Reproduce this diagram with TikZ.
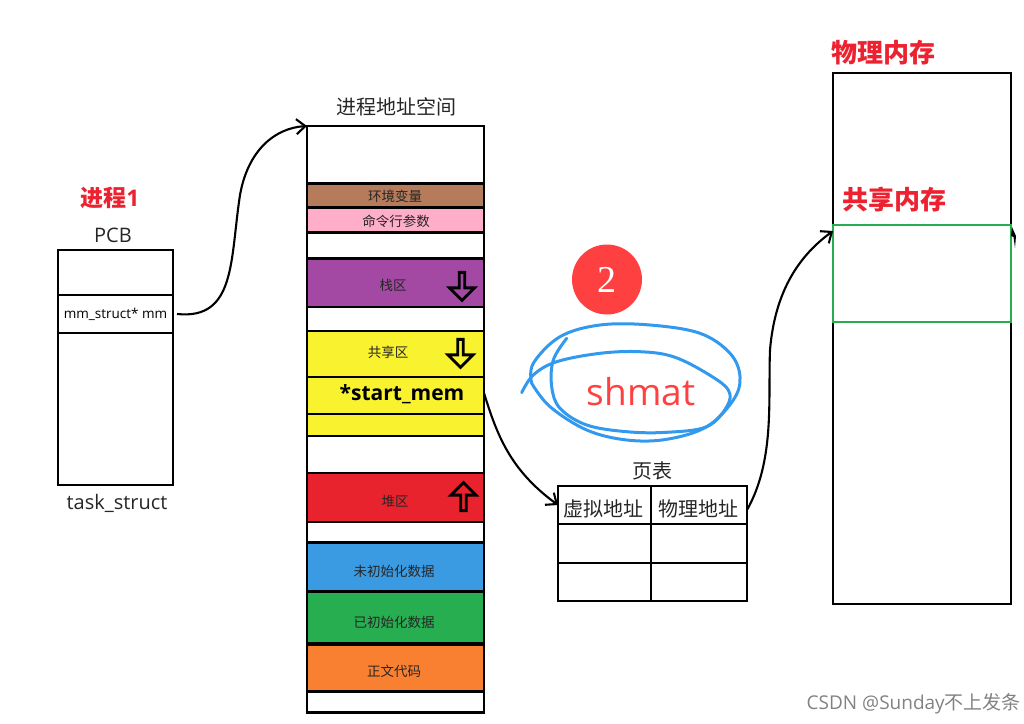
\documentclass[tikz,border=0pt]{standalone}
\usepackage{fontspec}
\setmainfont{Open Sans}
\newfontfamily\cjk{Noto Sans CJK SC}
\usepackage{xcolor}
\definecolor{EnvBrown}    {RGB}{181, 123,  90}
\definecolor{ArgPink}     {RGB}{255, 174, 201}
\definecolor{StackPurple} {RGB}{163,  73, 164}
\definecolor{ShareYellow} {RGB}{249, 242,  46}
\definecolor{HeapRed}     {RGB}{232,  35,  46}
\definecolor{BssBlue}     {RGB}{ 58, 155, 227}
\definecolor{DataGreen}   {RGB}{ 39, 174,  80}
\definecolor{CodeOrange}  {RGB}{249, 128,  48}
\definecolor{TitleRed}    {RGB}{237,  34,  48}
\definecolor{BadgeRed}    {RGB}{255,  64,  64}
\definecolor{InkBlue}     {RGB}{ 51, 153, 238}
\definecolor{MarkGray}    {RGB}{130, 130, 130}
\usetikzlibrary{
  shapes.arrows,
  arrows.meta
}

\begin{document}
\begin{tikzpicture}[
  x=1pt, y=-1pt,
  font=\cjk,
  seg/.style={
    draw=black, line width=2.6pt,
    minimum width=177pt,
    inner sep=0pt, outer sep=0pt
  },
  segtext/.style={
    font=\cjk\fontsize{13.5}{15}\selectfont,
    text=black!85, inner sep=0pt
  },
  cell/.style={
    draw=black, line width=2.6pt,
    minimum height=38pt,
    inner sep=0pt, outer sep=0pt
  },
  pcbrow/.style={
    draw=black, line width=2.6pt,
    minimum width=115pt,
    inner sep=0pt, outer sep=0pt
  },
  title/.style={
    font=\cjk\fontsize{20}{22}\selectfont,
    text=black!85, inner sep=0pt
  },
  redtitle/.style={
    font=\cjk\bfseries\fontsize{26}{28}\selectfont,
    text=TitleRed, inner sep=0pt
  },
  latintext/.style={
    font=\rmfamily\fontsize{20}{22}\selectfont,
    text=black!85, inner sep=0pt
  },
  growarrow/.style={
    single arrow, draw=black, line width=2.8pt,
    minimum height=28pt, minimum width=25pt,
    single arrow head extend=5pt,
    single arrow head indent=0pt,
    inner sep=0pt
  },
  arrow/.style={
    -{Straight Barb[length=9pt,width=15pt]},
    line width=2.1pt, color=black
  },
  scribble/.style={
    draw=InkBlue, line width=3pt,
    line cap=round, line join=round
  }
]
\useasboundingbox (0,0) rectangle (1024,723);

\node[redtitle, font=\cjk\bfseries\fontsize{23}{25}\selectfont] (proc) at (110,198)
  {进程\rmfamily 1};
\node[latintext] (pcb) at (113,235) {PCB};
\node[pcbrow, minimum height=45pt] (pcbtop) at (115.5,272.5) {};
\node[pcbrow, minimum height=38pt,
  font=\rmfamily\fontsize{13.5}{15}\selectfont] (mmrow) at (115.5,314)
  {mm\_struct* mm};
\node[pcbrow, minimum height=152pt] (pcbrest) at (115.5,409) {};
\node[latintext] (task) at (117,503) {task\_struct};

\node[title] (spacetitle) at (396,107) {进程地址空间};
\node[seg, minimum height=58pt, fill=white] (top) at (395.5,155) {};
\node[seg, minimum height=24pt, fill=EnvBrown] (env) at (395.5,195.5) {};
\node[seg, minimum height=25pt, fill=ArgPink] (args) at (395.5,220) {};
\node[seg, minimum height=26pt, fill=white] (gapa) at (395.5,245.5) {};
\node[seg, minimum height=48pt, fill=StackPurple] (stack) at (395.5,283) {};
\node[seg, minimum height=24pt, fill=white] (gapb) at (395.5,319) {};
\node[seg, minimum height=46pt, fill=ShareYellow] (share) at (395.5,354) {};
\node[seg, minimum height=38pt, fill=ShareYellow] (startmem) at (395.5,396) {};
\node[seg, minimum height=22pt, fill=ShareYellow] (sharerest) at (395.5,425) {};
\node[seg, minimum height=37pt, fill=white] (gapc) at (395.5,454.5) {};
\node[seg, minimum height=49pt, fill=HeapRed] (heap) at (395.5,497.5) {};
\node[seg, minimum height=20pt, fill=white] (gapd) at (395.5,532) {};
\node[seg, minimum height=49pt, fill=BssBlue] (bss) at (395.5,567) {};
\node[seg, minimum height=52pt, fill=DataGreen] (initdata) at (395.5,617.5) {};
\node[seg, minimum height=47pt, fill=CodeOrange] (code) at (395.5,668) {};
\node[seg, minimum height=21pt, fill=white] (gape) at (395.5,702) {};

\node[segtext] (envtext) at (395,196.5) {环境变量};
\node[segtext] (argstext) at (396,221) {命令行参数};
\node[segtext] (stacktext) at (393,285) {栈区};
\node[segtext] (sharetext) at (388,352) {共享区};
\node[font=\rmfamily\bfseries\fontsize{21}{23}\selectfont, text=black,
  inner sep=0pt] (startmemtext) at (402,394) {*start\_mem};
\node[segtext] (heaptext) at (395,501) {堆区};
\node[segtext] (bsstext) at (394,571) {未初始化数据};
\node[segtext] (datatext) at (394,622) {已初始化数据};
\node[segtext] (codetext) at (394,671) {正文代码};

\node[growarrow, shape border rotate=270] (stackgrow) at (462,285) {};
\node[growarrow, shape border rotate=270] (sharegrow) at (460.5,352) {};
\node[growarrow, shape border rotate=90] (heapgrow) at (463.5,498) {};

\node[circle, fill=BadgeRed, minimum size=70pt, inner sep=0pt,
  text=white, font=\rmfamily\fontsize{38}{40}\selectfont] (badge) at (607,279.5)
  {\fontspec{Liberation Serif}2};
\node[font=\rmfamily\fontsize{37}{40}\selectfont, text=BadgeRed,
  inner sep=0pt] (shmat) at (641,392) {shmat};
\draw[scribble] plot[smooth, tension=0.6] coordinates {
  (521.7,392.7) (533.3,375) (556.7,361.7) (600,353.3) (640,351.7)
  (673.3,356.7) (706.7,373.3) (728.3,390) (726.7,406.7) (706.7,426.7)
  (666.7,432.3) (626.7,431.7) (586.7,425) (560,408.3) (551.7,386.7)
  (553.3,360) (566.7,338.3)};
\draw[scribble] plot[smooth, tension=0.6] coordinates {
  (531.7,383.3) (533.3,363.3) (560,336.7) (600,325) (650,325)
  (700,333.3) (730,353.3) (740,376.7) (733.3,400) (706.7,426.7)
  (666.7,439.3) (626.7,440) (586.7,430) (550,406.7) (531.7,383.3)};

\node[title] (tabletitle) at (652,471) {页表};
\node[cell, minimum width=93pt] (vaddr) at (604.5,505) {};
\node[cell, minimum width=96pt] (paddr) at (699,505) {};
\node[cell, minimum width=93pt, minimum height=39pt] (rowaleft) at (604.5,543.5) {};
\node[cell, minimum width=96pt, minimum height=39pt] (rowaright) at (699,543.5) {};
\node[cell, minimum width=93pt] (rowbleft) at (604.5,582) {};
\node[cell, minimum width=96pt] (rowbright) at (699,582) {};
\node[title] (vaddrtext) at (603,509) {虚拟地址};
\node[title] (paddrtext) at (698,509) {物理地址};

\node[redtitle] (memtitle) at (883.5,53) {物理内存};
\node[draw=black, line width=2.6pt, minimum width=178pt, minimum height=531pt,
  inner sep=0pt, outer sep=0pt] (mem) at (922,338.5) {};
\node[draw=DataGreen, line width=2.6pt, minimum width=178pt, minimum height=97pt,
  inner sep=0pt, outer sep=0pt] (shm) at (922,273.5) {};
\node[redtitle] (shmtitle) at (894,200) {共享内存};

\node[font=\rmfamily\fontsize{19}{21}\selectfont, text=MarkGray,
  anchor=east, inner sep=0pt] (mark) at (1021,704)
  {CSDN @Sunday{\cjk 不上发条}};

\draw[arrow] ([xshift=4pt]mmrow.east) .. controls (236,320) and (230,260) ..
  (240,195) .. controls (248,150) and (275,128) .. (top.north west);
\draw[arrow] ([yshift=3pt]startmem.east) .. controls (497,435) and (510,470) ..
  (vaddr.west);
\draw[arrow] ([yshift=-5pt]paddr.east) .. controls (775,460) and (768,400) ..
  (770,350) .. controls (775,290) and (800,255) .. ([yshift=-6pt]shm.north west);

\fill (1012,227) -- (1016,236) -- (1015,248) -- (1013.5,237) -- (1011,236) -- cycle;
\end{tikzpicture}
\end{document}
